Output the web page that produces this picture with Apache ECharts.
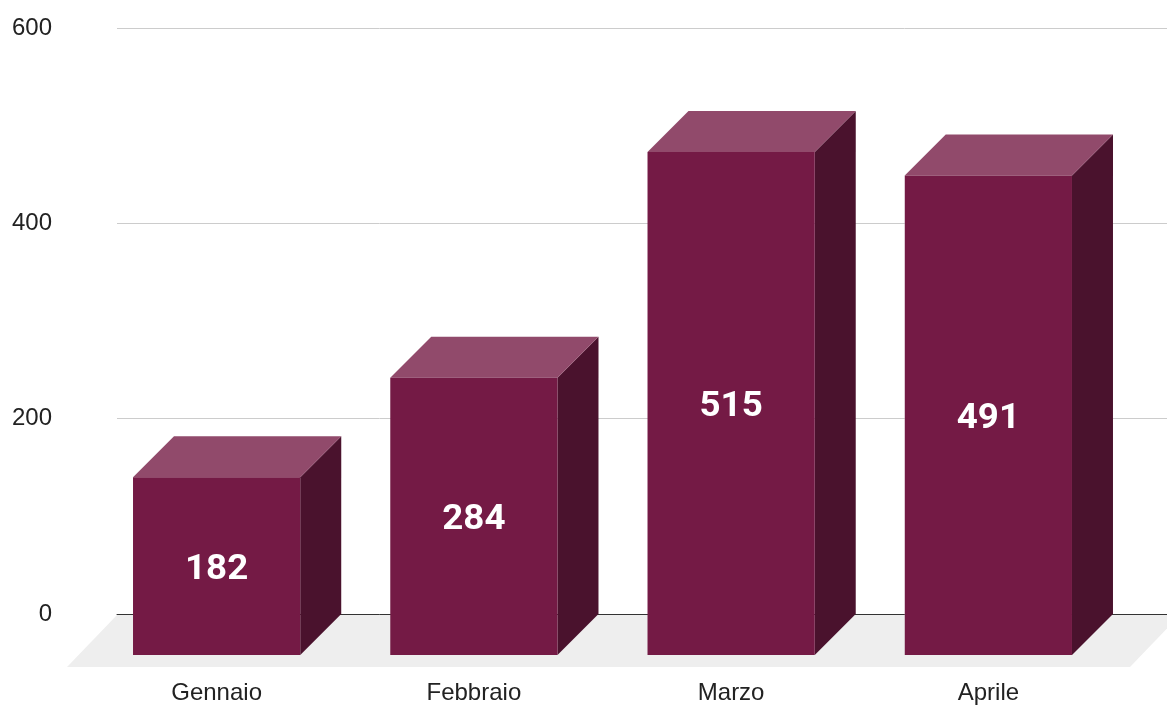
<!DOCTYPE html>
<html>
<head>
<meta charset="utf-8">
<style>
  html, body { margin: 0; padding: 0; background: #fff; }
  #chart { width: 1167px; height: 707px; }
</style>
<script src="https://cdn.jsdelivr.net/npm/echarts@6/dist/echarts.min.js"></script>
</head>
<body>
<div id="chart"></div>
<script>
// Monthly totals
var months = ['Gennaio', 'Febbraio', 'Marzo', 'Aprile'];
var totals = [182, 284, 515, 491];
var yTicks = [0, 200, 400, 600];

// 3D look
var DEPTH = 41;            // offset between front and back faces
var FRONT = '#741a45';
var TOP = '#914a6b';
var SIDE = '#4a122d';
var FLOOR = '#eeeeee';

var chart = echarts.init(document.getElementById('chart'), null, { renderer: 'canvas' });

function renderFloor(params, api) {
  var cs = params.coordSys;
  var y0 = api.coord([0, 0])[1] + 1;
  var y1 = y0 + 52;
  return {
    type: 'polygon',
    z2: 0,
    shape: { points: [
      [cs.x, y0], [cs.x + cs.width + 13, y0],
      [cs.x + cs.width - 37, y1], [cs.x - 50, y1]
    ] },
    style: { fill: FLOOR }
  };
}

function renderBar(params, api) {
  var idx = api.value(0);
  var val = api.value(1);
  var top = api.coord([idx, val]);
  var base = api.coord([idx, 0]);
  var w = api.size([1, 0])[0] * 0.65;
  // front face sits on the band centre, back face is shifted up-right
  var fl = top[0] - w / 2, fr = top[0] + w / 2;
  var fTop = top[1] + DEPTH, fBot = base[1] + DEPTH;
  var bl = fl + DEPTH, br = fr + DEPTH, bTop = top[1], bBot = base[1];
  return {
    type: 'group',
    children: [
      { type: 'polygon', shape: { points: [[fr, fTop], [br, bTop], [br, bBot], [fr, fBot]] },
        style: { fill: SIDE } },
      { type: 'polygon', shape: { points: [[fl, fTop], [bl, bTop], [br, bTop], [fr, fTop]] },
        style: { fill: TOP } },
      { type: 'rect', shape: { x: fl, y: fTop, width: w, height: fBot - fTop },
        style: { fill: FRONT } },
      { type: 'text', x: top[0], y: (fTop + fBot) / 2 + 4, scaleX: 1.05,
        style: { text: String(val), fill: '#ffffff', fontFamily: 'Roboto', fontWeight: 'bold',
          fontSize: 35, align: 'center', verticalAlign: 'middle' } }
    ]
  };
}

var option = {
  animation: false,
  backgroundColor: '#ffffff',
  grid: [
    { left: 117, right: 0, top: 28, bottom: 93 },
    { left: 88, right: 50, top: 28, bottom: 93 }
  ],
  xAxis: [
    { type: 'category', gridIndex: 0, data: months,
      axisLine: { show: true, lineStyle: { color: '#333333', width: 1 } },
      axisTick: { show: false }, axisLabel: { show: false }, splitLine: { show: false } },
    { type: 'category', gridIndex: 1, data: months,
      axisLine: { show: false }, axisTick: { show: false },
      axisLabel: { margin: 67, color: '#222222', fontSize: 24, fontFamily: 'Liberation Sans' } }
  ],
  yAxis: [
    { type: 'value', gridIndex: 0, min: yTicks[0], max: yTicks[yTicks.length - 1], interval: 200,
      axisLine: { show: false }, axisTick: { show: false },
      axisLabel: { margin: 65, color: '#222222', fontSize: 24, fontFamily: 'Liberation Sans' },
      splitLine: { show: true, lineStyle: { color: '#cccccc', width: 1 } } },
    { type: 'value', gridIndex: 1, min: yTicks[0], max: yTicks[yTicks.length - 1], interval: 200,
      show: false }
  ],
  series: [
    { type: 'custom', xAxisIndex: 0, yAxisIndex: 0, z: 1, silent: true,
      renderItem: renderFloor, data: [[0, 0]] },
    { type: 'custom', xAxisIndex: 1, yAxisIndex: 1, z: 3,
      renderItem: renderBar,
      encode: { x: 0, y: 1 },
      data: months.map(function (m, i) { return [i, totals[i]]; }) }
  ]
};

chart.setOption(option);
</script>
</body>
</html>
